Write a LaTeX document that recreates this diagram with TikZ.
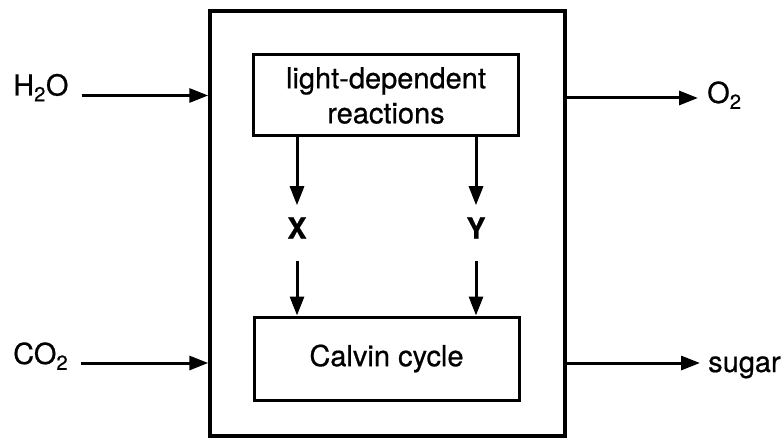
\documentclass[tikz,border=0pt]{standalone}
\usepackage{fontspec}
\setmainfont{TeX Gyre Heros}[FakeBold=0.6]
\usetikzlibrary{arrows.meta,positioning}

\begin{document}
\begin{tikzpicture}[x=1pt,y=1pt,
  every node/.style={font=\fontsize{29}{35}\selectfont},
  box/.style={draw,line width=3pt,minimum width=265pt,align=center,inner sep=0pt},
  lbl/.style={inner sep=0pt},
  mid/.style={inner xsep=0pt,inner ysep=12pt,font=\fontsize{29}{35}\selectfont\bfseries},
  flow/.style={line width=3pt,-{Triangle[length=19pt,width=14pt]}}]

\useasboundingbox (0,0) rectangle (783,437);

% outer box
\node[draw,line width=3.5pt,minimum width=355pt,minimum height=425pt] (plant) at (387.5,213.5) {};

% the two stages
\node[box,minimum height=81pt] (light) at (386,341.5) {light-dependent\\reactions};
\node[box,minimum height=83pt] (calvin) at (386.5,78.5) {Calvin cycle};

\node[mid] (xprod) at (297,209) {X};
\node[mid] (yprod) at (476,209) {Y};

\draw[flow] (light.south -| xprod) -- (xprod);
\draw[flow] (light.south -| yprod) -- (yprod);
\draw[flow,shorten <=10pt] (xprod) -- (xprod |- calvin.north);
\draw[flow,shorten <=10pt] (yprod) -- (yprod |- calvin.north);

% inputs
\node[lbl,anchor=base west] (water) at (13,341.5) {H\textsubscript{2}O};
\node[lbl,anchor=base west] (carbon) at (13,73) {CO\textsubscript{2}};
\draw[flow,shorten <=13pt] (water.base east) -- (water.base east -| plant.west);
\draw[flow,shorten <=13pt] ([yshift=1pt]carbon.base east) -- ([yshift=1pt]carbon.base east -| plant.west);

% outputs
\node[lbl,anchor=base west] (oxygen) at (707,334) {O\textsubscript{2}};
\node[lbl,anchor=base west] (sugar) at (708,65) {sugar};
\draw[flow,shorten >=9pt] ([yshift=5pt]oxygen.base west -| plant.east) -- ([yshift=5pt]oxygen.base west);
\draw[flow,shorten >=8pt] ([yshift=9pt]sugar.base west -| plant.east) -- ([yshift=9pt]sugar.base west);

\end{tikzpicture}
\end{document}
